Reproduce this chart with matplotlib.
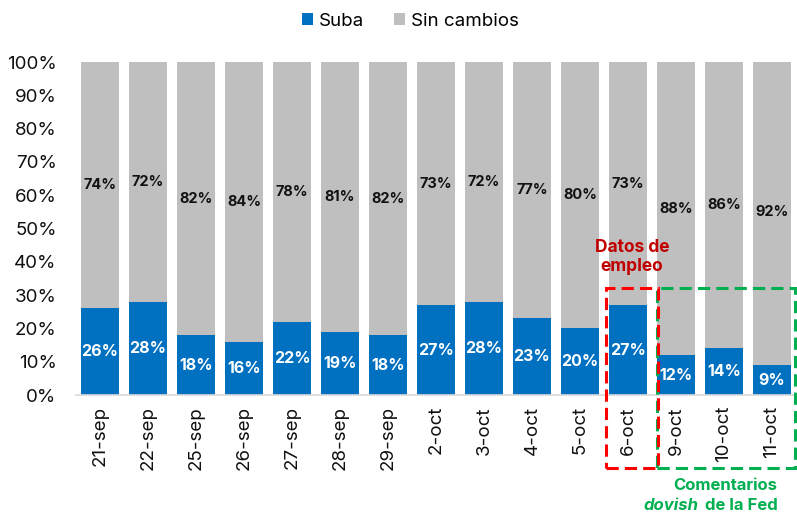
import numpy as np
import matplotlib.pyplot as plt
from matplotlib.patches import Rectangle

plt.rcParams['font.family'] = ['Inter', 'DejaVu Sans']

fechas = ["21-sep", "22-sep", "25-sep", "26-sep", "27-sep", "28-sep", "29-sep",
          "2-oct", "3-oct", "4-oct", "5-oct", "6-oct", "9-oct", "10-oct", "11-oct"]
suba = [26, 28, 18, 16, 22, 19, 18, 27, 28, 23, 20, 27, 12, 14, 9]
sin_cambios = [74, 72, 82, 84, 78, 81, 82, 73, 72, 77, 80, 73, 88, 86, 92]

azul = "#0070C0"
gris = "#BFBFBF"

fig = plt.figure(figsize=(7.97, 5.13), dpi=100)
ax = fig.add_axes([0.0954, 0.23, 0.9033, 0.649])

x = np.arange(len(fechas))
s = np.array(suba) / 100
c = np.array(sin_cambios) / 100
ax.bar(x, s, width=0.79, color=azul, label="Suba")
ax.bar(x, c, width=0.79, bottom=s, color=gris, label="Sin cambios")

for i in range(len(x)):
    ax.text(x[i], s[i] / 2, f"{suba[i]}%", ha="center", va="center",
            color="white", fontsize=11.5, fontweight="bold")
    ax.text(x[i], s[i] + c[i] / 2, f"{sin_cambios[i]}%", ha="center", va="center",
            color="#111111", fontsize=10.5, fontweight="bold")

ax.set_xlim(-0.5, len(x) - 0.5)
ax.set_ylim(0, 1)
ax.set_yticks(np.arange(0, 1.01, 0.1))
ax.set_yticklabels([f"{int(round(v * 100))}%" for v in np.arange(0, 1.01, 0.1)])
ax.set_xticks(x)
ax.set_xticklabels(fechas, rotation=90)
ax.tick_params(axis="y", length=0, pad=14, labelsize=13.5, colors="#111111")
ax.tick_params(axis="x", length=0, pad=8, labelsize=13.5, colors="#111111")
for sp in ["top", "right", "left"]:
    ax.spines[sp].set_visible(False)
ax.spines["bottom"].set_color("#D9D9D9")
ax.spines["bottom"].set_linewidth(1.2)

# recuadros
ax.add_patch(Rectangle((10.54, -0.219), 11.625 - 10.54, 0.321 + 0.219, fill=False,
                       edgecolor="#FF0000", linestyle=(0, (4, 2)), linewidth=2.2,
                       clip_on=False, zorder=5))
ax.add_patch(Rectangle((11.6, -0.219), 14.48 - 11.6, 0.321 + 0.219, fill=False,
                       edgecolor="#00B050", linestyle=(0, (4, 2)), linewidth=2.2,
                       clip_on=False, zorder=4))

ax.text(11.08, 0.414, "Datos de\nempleo", ha="center", va="center", color="#C00000",
        fontsize=12.5, fontweight="bold", linespacing=1.15)

fig.text(725 / 797, 1 - 486 / 513, "Comentarios", ha="center", va="center",
         color="#00B050", fontsize=12, fontweight="bold")
fig.text(698 / 797, 1 - 505 / 513, "dovish", ha="right", va="center",
         color="#00B050", fontsize=12, fontweight="bold", style="italic")
fig.text(705 / 797, 1 - 505 / 513, "de la Fed", ha="left", va="center",
         color="#00B050", fontsize=12, fontweight="bold")

fig.legend(loc="center", bbox_to_anchor=(410 / 797, 1 - 21 / 513), ncol=2, frameon=False,
           fontsize=13.5, handlelength=0.6, handleheight=0.6, handletextpad=0.3,
           columnspacing=1.6)

fig.savefig("out.png", dpi=100)
